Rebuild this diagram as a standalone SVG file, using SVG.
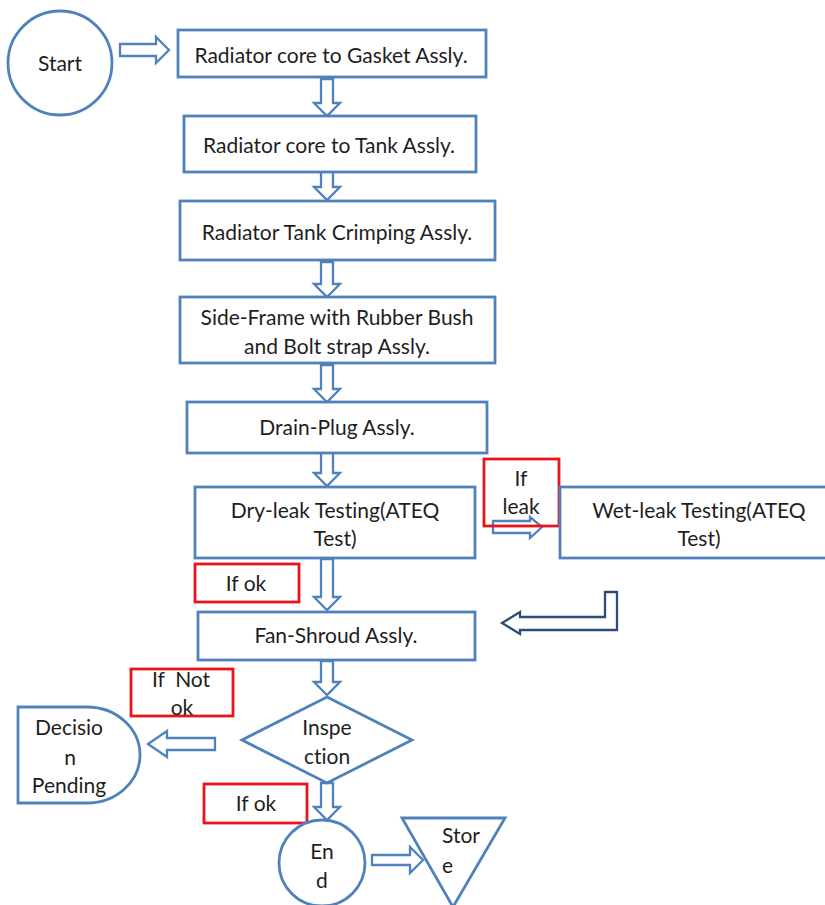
<svg xmlns="http://www.w3.org/2000/svg" width="825" height="905" viewBox="0 0 825 905">
<style>
.n{fill:#fff;stroke:#4f81bd;stroke-width:2.8}
.r{fill:none;stroke:#e8141b;stroke-width:2.8}
.a{fill:#fff;stroke:#4f81bd;stroke-width:2.3;stroke-linejoin:miter}
.ad{fill:#fff;stroke:#2c4d7a;stroke-width:2.3;stroke-linejoin:miter}
text{font-family:Lato,"Liberation Sans",sans-serif;font-size:21px;fill:#1e1e1e;text-anchor:middle;dominant-baseline:central;font-variant-ligatures:none}
</style>
<rect width="825" height="905" fill="#fff"/>
<g id="connectors">
<path class="a" d="M120,44 H156 V37 L169,50 L156,63 V56 H120 Z"/>
<path class="a" d="M321,79 V103 H314 L327,116 L340,103 H333 V79 Z"/>
<path class="a" d="M321,163 V187 H314 L327,200 L340,187 H333 V163 Z"/>
<path class="a" d="M321,262 V284 H314 L327,297 L340,284 H333 V262 Z"/>
<path class="a" d="M321,365 V389 H314 L327,402 L340,389 H333 V365 Z"/>
<path class="a" d="M321,452 V473 H314 L327,486 L340,473 H333 V452 Z"/>
<path class="a" d="M321,559 V597 H314 L327,610 L340,597 H333 V559 Z"/>
<path class="a" d="M321,661 V682 H314 L327,695 L340,682 H333 V661 Z"/>
<path class="a" d="M321,783 V807 H314 L327,820 L340,807 H333 V783 Z"/>
<path class="a" d="M493,521 H530 V517 L542,527 L530,538 V533 H493 Z"/>
<path class="ad" d="M605,592 H617 V630 H520 V634 L502,623 L520,612 V617 H605 Z"/>
<path class="a" d="M215,738 V750 H167 V757 L148,744 L167,731 V738 Z"/>
<path class="a" d="M372,855 H410 V847 L423,860 L410,873 V865 H372 Z"/>
</g>
<g id="start">
<circle class="n" cx="60" cy="63" r="52"/>
<text x="60" y="62">Start</text>
</g>
<g id="gasket">
<rect class="n" x="178" y="30" width="308" height="47"/>
<text x="331" y="54">Radiator core to Gasket Assly.</text>
</g>
<g id="tank">
<rect class="n" x="184" y="116" width="292" height="56"/>
<text x="329" y="144">Radiator core to Tank Assly.</text>
</g>
<g id="crimping">
<rect class="n" x="180" y="201" width="315" height="59"/>
<text x="337" y="231">Radiator Tank Crimping Assly.</text>
</g>
<g id="sideframe">
<rect class="n" x="180" y="297" width="315" height="66"/>
<text x="337" y="316">Side-Frame with Rubber Bush</text>
<text x="337" y="345">and Bolt strap Assly.</text>
</g>
<g id="drainplug">
<rect class="n" x="187" y="402" width="300" height="51"/>
<text x="337" y="426">Drain-Plug Assly.</text>
</g>
<g id="dryleak">
<rect class="n" x="195" y="487" width="280" height="71"/>
<text x="335" y="509">Dry-leak Testing(ATEQ</text>
<text x="335" y="537">Test)</text>
</g>
<g id="ifleak">
<rect class="r" x="484" y="459" width="75" height="67"/>
<text x="521" y="477">If</text>
<text x="521" y="505">leak</text>
</g>
<g id="wetleak">
<rect class="n" x="560" y="487" width="280" height="71"/>
<text x="699" y="509">Wet-leak Testing(ATEQ</text>
<text x="699" y="537">Test)</text>
</g>
<g id="ifok1">
<rect class="r" x="195" y="564" width="104" height="38"/>
<text x="246" y="582">If ok</text>
</g>
<g id="fanshroud">
<rect class="n" x="198" y="612" width="277" height="48"/>
<text x="336" y="634">Fan-Shroud Assly.</text>
</g>
<g id="ifnotok">
<rect class="r" x="131" y="669" width="102" height="47"/>
<text x="181" y="678" xml:space="preserve">If  Not</text>
<text x="182" y="706">ok</text>
</g>
<g id="inspection">
<polygon class="n" points="327,697 412,740 327,783 242,740"/>
<text x="327" y="726">Inspe</text>
<text x="327" y="755">ction</text>
</g>
<g id="decision">
<path class="n" d="M18,707 H87 A53,48 0 0 1 87,803 H18 Z"/>
<text x="69" y="726">Decisio</text>
<text x="70" y="756">n</text>
<text x="69" y="784">Pending</text>
</g>
<g id="ifok2">
<rect class="r" x="204" y="784" width="103" height="39"/>
<text x="256" y="802">If ok</text>
</g>
<g id="end">
<circle class="n" cx="322" cy="863" r="43"/>
<text x="322" y="850">En</text>
<text x="322" y="879">d</text>
</g>
<g id="store">
<polygon class="n" points="402,818 505,818 453,907"/>
<text x="442" y="834" style="text-anchor:start">Stor</text>
<text x="442" y="864" style="text-anchor:start">e</text>
</g>
</svg>
